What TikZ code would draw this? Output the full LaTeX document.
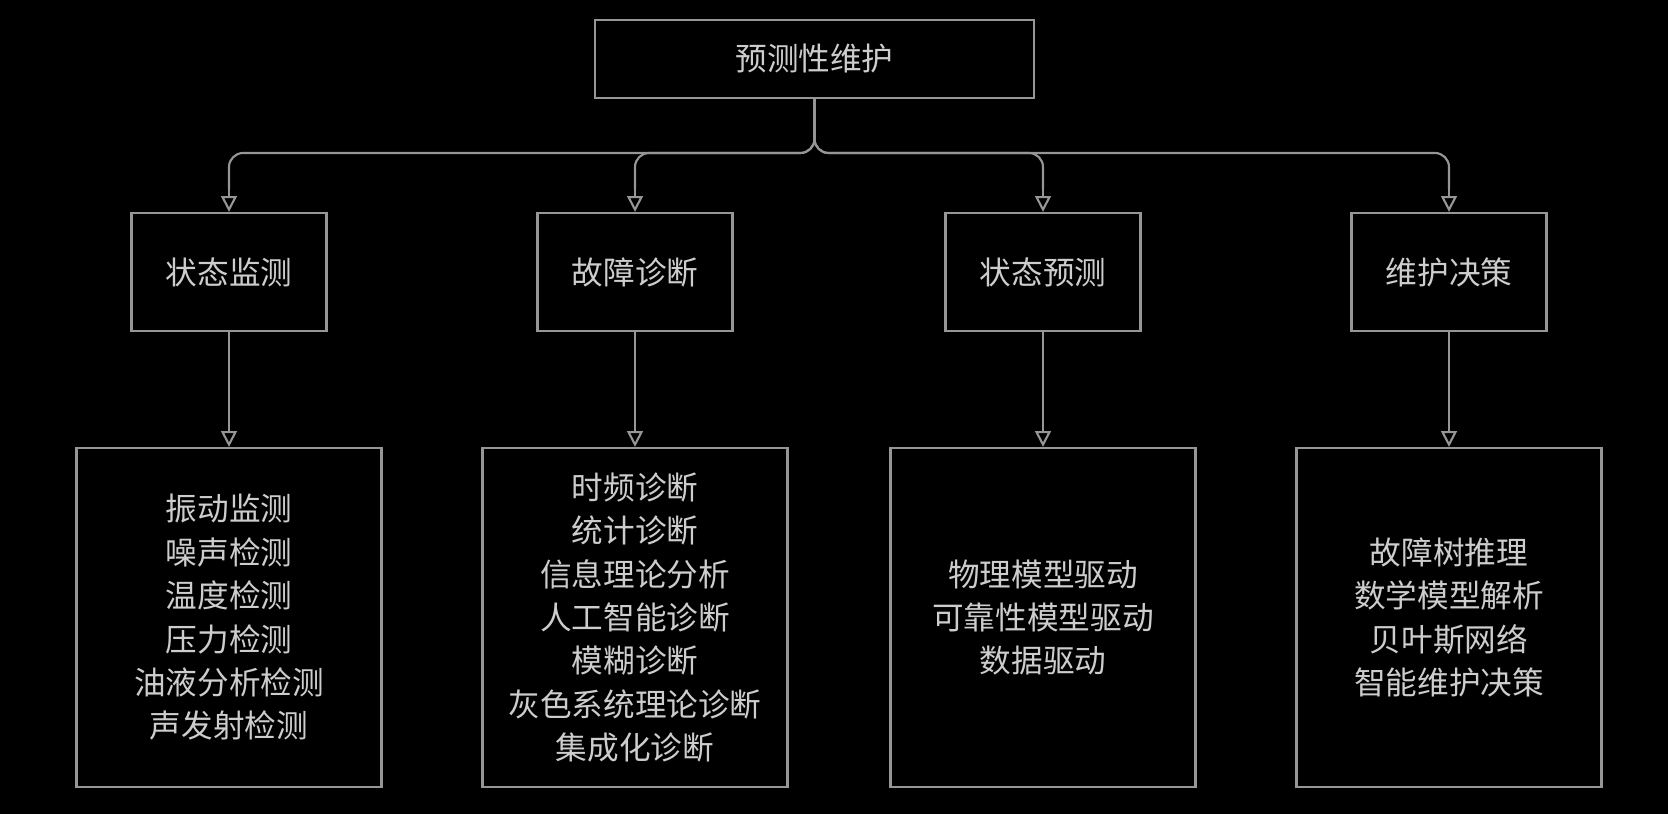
\documentclass[tikz,border=0pt]{standalone}
\usepackage{fontspec}
\setmainfont{Noto Sans CJK SC}
\usetikzlibrary{positioning, arrows.meta, calc}
\definecolor{bgblack}{RGB}{0,0,0}
\definecolor{edgegray}{RGB}{150,150,150}
\definecolor{txtgray}{RGB}{205,205,205}
\tikzset{
    topbox/.style={rectangle, draw=edgegray, line width=1.2pt, minimum width=8.78cm, minimum height=1.56cm, align=center, text=txtgray, font=\fontsize{18}{24}\selectfont},
    midbox/.style={rectangle, draw=edgegray, line width=1.2pt, minimum width=3.9cm, minimum height=2.36cm, align=center, text=txtgray, font=\fontsize{18}{24}\selectfont},
    bigbox/.style={rectangle, draw=edgegray, line width=1.2pt, minimum width=6.1cm, minimum height=6.78cm, align=center, text=txtgray, font=\fontsize{18}{24.7}\selectfont},
    arr/.style={-{Triangle[open, length=9pt, width=9pt]}, line width=1.2pt, color=edgegray}
}
\begin{document}
\begin{tikzpicture}[
            bus/.style={line width=1.2pt, edgegray, rounded corners=8pt}
        ]
            \fill[bgblack] (0, 0) rectangle (33.36, -16.28);
            \useasboundingbox (0, 0) rectangle (33.36, -16.28);
            \node[topbox] (root) at (16.29, -1.18) {预测性维护};
            % second level
            \node[midbox] (monitor) at (4.58, -5.44) {状态监测};
            \node[midbox] (diagnose) at (12.70, -5.44) {故障诊断};
            \node[midbox] (predict) at (20.86, -5.44) {状态预测};
            \node[midbox] (decide) at (28.98, -5.44) {维护决策};
            % third level
            \node[bigbox] (monitorlist) at (4.58, -12.35) {振动监测\\噪声检测\\温度检测\\压力检测\\油液分析检测\\声发射检测};
            \node[bigbox] (diagnoselist) at (12.70, -12.35) {时频诊断\\统计诊断\\信息理论分析\\人工智能诊断\\模糊诊断\\灰色系统理论诊断\\集成化诊断};
            \node[bigbox] (predictlist) at (20.86, -12.35) {物理模型驱动\\可靠性模型驱动\\数据驱动};
            \node[bigbox] (decidelist) at (28.98, -12.35) {故障树推理\\数学模型解析\\贝叶斯网络\\智能维护决策};
            \coordinate (junction) at (root.south |- 0, -3.06);
            \foreach \n in {monitor, diagnose, predict, decide} {
                \draw[bus] (root.south) -- (junction) -| ($(\n.north) + (0, 0.45)$);
                \draw[arr] ($(\n.north) + (0, 0.5)$) -- (\n.north);
                \draw[arr] (\n.south) -- (\n list.north);
            }
        \end{tikzpicture}
\end{document}
